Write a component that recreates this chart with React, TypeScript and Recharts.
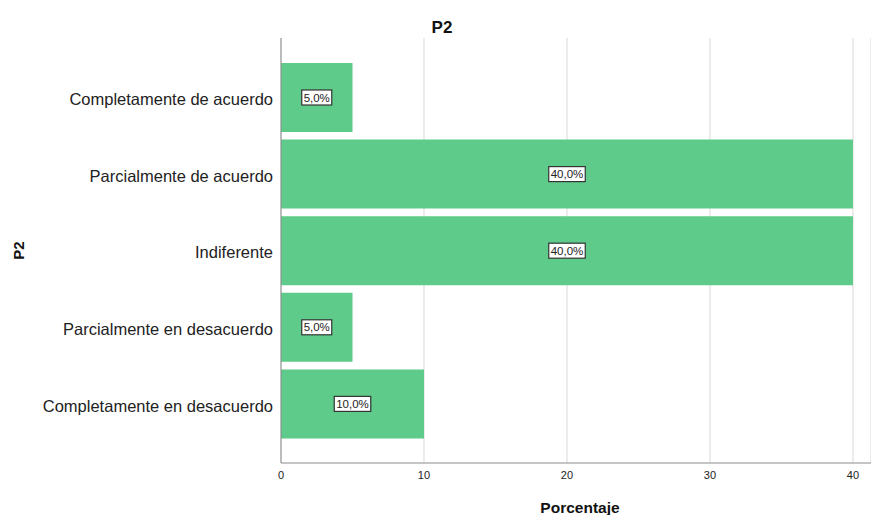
import React from 'react';
import { BarChart, Bar, XAxis, YAxis, CartesianGrid, LabelList } from 'recharts';

const categories = [
  'Completamente de acuerdo',
  'Parcialmente de acuerdo',
  'Indiferente',
  'Parcialmente en desacuerdo',
  'Completamente en desacuerdo',
];
const percentages = [5, 40, 40, 5, 10];
const xTicks = [0, 10, 20, 30, 40];

const data = categories.map((name, i) => ({ name, value: percentages[i] }));

const FONT = '"Liberation Sans", Arial, sans-serif';

const BoxLabel = (props: any) => {
  const { x, y, width, height, value } = props;
  const text = `${Number(value).toFixed(1).replace('.', ',')}%`;
  const cx = x + width / 2;
  const cy = y + height / 2;
  const w = text.length * 6.5 + 4;
  return (
    <g>
      <rect x={cx - w / 2} y={cy - 7.5} width={w} height={15} fill="#fff" stroke="#333" strokeWidth={1.2} />
      <text x={cx} y={cy + 4} textAnchor="middle" fontSize={11.5} fontFamily={FONT} fill="#222">
        {text}
      </text>
    </g>
  );
};

const App = () => {
  return (
    <div style={{ position: 'absolute', left: 0, top: 0, width: 871, height: 515, background: '#fff' }}>
      <div
        style={{
          position: 'absolute',
          left: 0,
          width: 884,
          top: 18,
          textAlign: 'center',
          fontFamily: FONT,
          fontWeight: 'bold',
          fontSize: 17,
          color: '#111',
        }}
      >
        P2
      </div>
      <BarChart
        width={871}
        height={515}
        data={data}
        layout="vertical"
        margin={{ top: 38, right: 0, left: 0, bottom: 0 }}
        barCategoryGap={4}
      >
        <CartesianGrid horizontal={false} stroke="#d9d9d9" />
        <XAxis
          type="number"
          domain={[0, 41.26]}
          ticks={xTicks}
          allowDataOverflow
          height={52}
          tickLine={false}
          axisLine={{ stroke: '#8c8c8c' }}
          tick={{ fontSize: 11, fill: '#222', fontFamily: FONT }}
          label={{
            content: ({ viewBox }: any) => (
              <text
                x={580}
                y={viewBox.y + 50}
                textAnchor="middle"
                fontSize={15.5}
                fontWeight="bold"
                fontFamily={FONT}
                fill="#111"
              >
                Porcentaje
              </text>
            ),
          }}
        />
        <YAxis
          type="category"
          dataKey="name"
          width={281}
          padding={{ top: 21, bottom: 21 }}
          tickLine={false}
          axisLine={{ stroke: '#8c8c8c' }}
          tick={{ fontSize: 16.5, fill: '#222', fontFamily: FONT, dy: 2 }}
          label={{
            content: ({ viewBox }: any) => (
              <text
                x={0}
                y={0}
                transform={`translate(24, ${viewBox.y + viewBox.height / 2}) rotate(-90)`}
                textAnchor="middle"
                fontSize={15}
                fontWeight="bold"
                fontFamily={FONT}
                fill="#111"
              >
                P2
              </text>
            ),
          }}
        />
        <Bar dataKey="value" fill="#5ecb8a" isAnimationActive={false}>
          <LabelList dataKey="value" content={BoxLabel} />
        </Bar>
      </BarChart>
    </div>
  );
};

export default App;
